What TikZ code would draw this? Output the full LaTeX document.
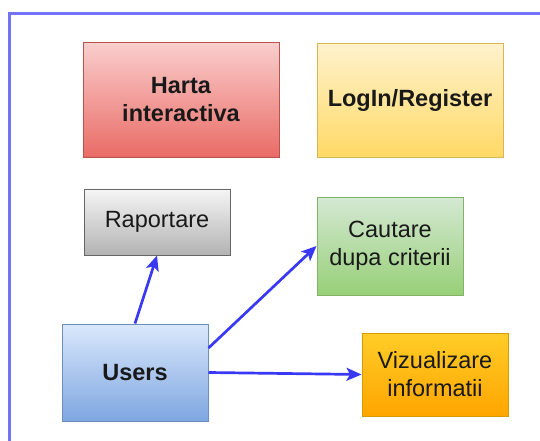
\documentclass[tikz,border=0pt]{standalone}
\usepackage{fontspec}
\setmainfont{Liberation Sans}
\usetikzlibrary{arrows.meta}

\definecolor{frameblue}{HTML}{7373F7}
\definecolor{arrowblue}{HTML}{3838F5}
\definecolor{redline}{HTML}{B85450}
\definecolor{redtop}{HTML}{F8CECC}
\definecolor{redbot}{HTML}{EA6B66}
\definecolor{yelline}{HTML}{D6B656}
\definecolor{yeltop}{HTML}{FFF2CC}
\definecolor{yelbot}{HTML}{FFD966}
\definecolor{greyline}{HTML}{666666}
\definecolor{greytop}{HTML}{F5F5F5}
\definecolor{greybot}{HTML}{B3B3B3}
\definecolor{grnline}{HTML}{82B366}
\definecolor{grntop}{HTML}{D5E8D4}
\definecolor{grnbot}{HTML}{97D077}
\definecolor{bluline}{HTML}{6C8EBF}
\definecolor{blutop}{HTML}{DAE8FC}
\definecolor{blubot}{HTML}{7EA6E0}
\definecolor{orgline}{HTML}{D79B00}
\definecolor{orgtop}{HTML}{FFCD28}
\definecolor{orgbot}{HTML}{FFA500}

\tikzset{
  box/.style={draw, line width=1pt, align=center, inner sep=2pt,
    font=\fontsize{23.5}{28}\selectfont, text=black!90},
  boldbox/.style={box, font=\fontsize{23.5}{28}\selectfont\bfseries},
  conn/.style={draw=arrowblue, line width=2.7pt,
    -{Stealth[length=15pt,width=13pt,inset=3.5pt]}},
}

\begin{document}
\begin{tikzpicture}[x=1pt,y=-1pt]
  \useasboundingbox (0,0) rectangle (540,441);

  % outer frame
  \draw[frameblue, line width=3pt] (9.7,445) -- (9.7,14) -- (545,14);

  % feature boxes
  \node[boldbox, draw=redline, top color=redtop, bottom color=redbot,
        minimum width=196pt, minimum height=114pt]
        (harta) at (181,100) {Harta\\interactiva};

  \node[boldbox, draw=yelline, top color=yeltop, bottom color=yelbot,
        minimum width=186pt, minimum height=113pt]
        (login) at (410,100.5) {LogIn/Register};

  \node[box, draw=greyline, top color=greytop, bottom color=greybot,
        minimum width=146pt, minimum height=66pt]
        (rap) at (157,222) {Raportare};

  \node[box, draw=grnline, top color=grntop, bottom color=grnbot,
        minimum width=146pt, minimum height=98pt]
        (caut) at (390,246) {Cautare\\dupa criterii};

  \node[boldbox, draw=bluline, top color=blutop, bottom color=blubot,
        minimum width=146pt, minimum height=97pt]
        (users) at (135,372.5) {Users};

  \node[box, draw=orgline, top color=orgtop, bottom color=orgbot,
        minimum width=146pt, minimum height=83pt]
        (viz) at (435,374.5) {Vizualizare\\informatii};

  % connectors from the user box
  \draw[conn] (users.north) -- (rap.south);
  \draw[conn] ([yshift=24.5pt]users.east) -- (caut.west);
  \draw[conn] (users.east) -- (viz.west);
\end{tikzpicture}
\end{document}
